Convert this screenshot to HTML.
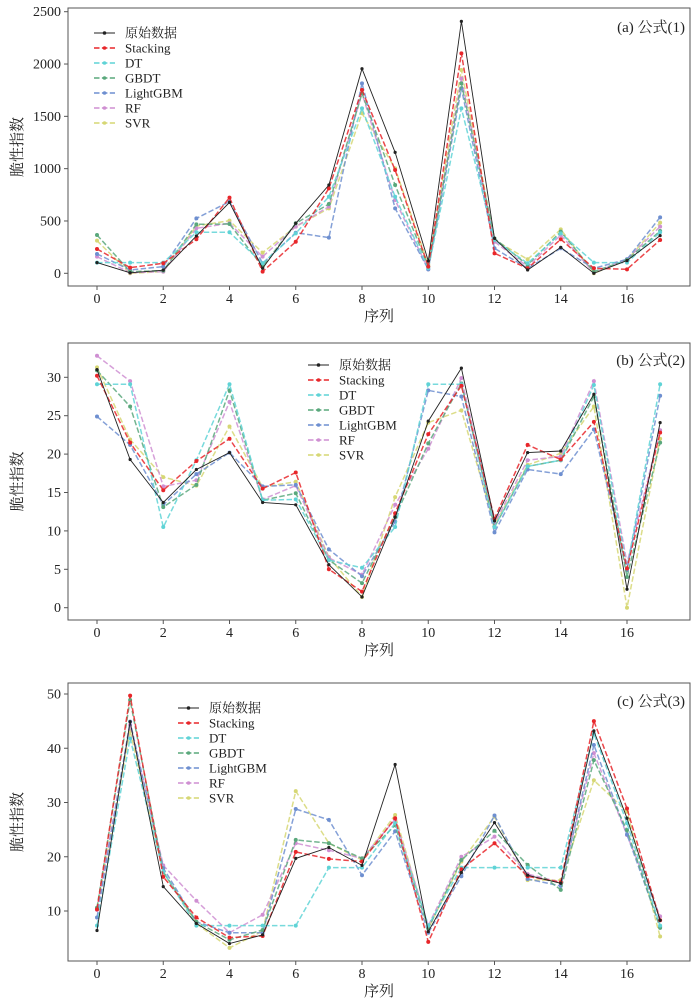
<!DOCTYPE html>
<html><head><meta charset="utf-8"><style>
body{margin:0;background:#fff;}
svg{display:block;font-family:"Liberation Serif","Noto Serif CJK SC",serif;}
</style></head><body>
<svg id="chart" width="700" height="1007" viewBox="0 0 700 1007"></svg>
<script>
const categories=[0,1,2,3,4,5,6,7,8,9,10,11,12,13,14,15,16,17];
const seriesNames=["原始数据","Stacking","DT","GBDT","LightGBM","RF","SVR"];
const xTicks=[0,2,4,6,8,10,12,14,16];
// panel a
const aOrig=[102,5,30,357,678,48,478,844,1955,1156,118,2408,334,32,248,0,121,360];
const aStack=[232,54,96,325,723,16,302,812,1752,987,64,2102,191,48,325,48,38,318];
const aDT=[102,102,102,392,392,96,382,732,1576,732,48,1576,318,96,382,102,102,392];
const aGBDT=[366,16,25,468,471,64,478,662,1720,844,64,1815,334,80,398,16,127,404];
const aLGBM=[185,32,64,525,685,96,388,341,1815,621,38,1768,239,48,239,48,134,535];
const aRF=[159,6,16,430,478,159,446,637,1720,700,38,1863,302,64,366,6,134,446];
const aSVR=[312,0,16,452,503,197,446,621,1529,1003,80,1943,318,134,420,0,127,484];
const aTicks=[0,500,1000,1500,2000,2500];
// panel b
const bOrig=[31.0,19.3,13.7,18.0,20.2,13.7,13.4,5.6,1.4,11.8,24.3,31.2,11.3,20.2,20.4,27.8,2.4,24.1];
const bStack=[30.2,21.5,15.3,19.1,22.0,15.5,17.6,5.0,2.1,12.3,22.6,28.9,11.6,21.2,19.3,24.2,5.1,22.8];
const bDT=[29.1,29.1,10.5,19.2,29.1,14.0,14.1,6.2,5.2,10.5,29.1,29.1,10.5,18.4,19.2,29.0,5.1,29.1];
const bGBDT=[30.9,26.2,13.1,16.0,28.3,14.0,14.9,6.2,3.2,11.8,21.4,29.2,10.5,18.4,19.2,27.5,4.0,21.5];
const bLGBM=[24.9,21.2,13.4,17.4,20.2,15.8,16.0,7.6,4.1,11.2,28.3,27.5,9.8,18.0,17.4,23.2,4.9,27.6];
const bRF=[32.8,29.5,15.8,16.6,26.8,14.1,15.9,6.5,4.3,13.4,20.7,29.9,11.0,19.2,19.7,29.5,5.8,23.1];
const bSVR=[31.3,21.9,17.0,15.9,23.6,15.7,16.4,6.6,1.4,14.4,24.1,25.7,10.8,18.6,20.1,26.2,0.0,22.0];
const bTicks=[0,5,10,15,20,25,30];
// panel c
const cOrig=[6.4,44.9,14.5,7.7,4.0,5.6,19.7,21.7,18.4,37.0,6.2,17.1,26.3,16.6,15.1,43.2,27.1,8.3];
const cStack=[10.3,49.7,16.3,8.8,5.1,5.4,20.9,19.6,19.1,27.1,4.3,17.7,22.5,16.4,15.3,45.0,28.9,8.3];
const cDT=[7.3,41.8,17.2,7.3,7.3,7.3,7.3,18.0,18.0,26.2,7.3,18.0,18.0,18.0,18.0,42.7,26.2,7.3];
const cGBDT=[10.6,48.9,17.2,8.0,4.7,6.5,23.1,22.5,19.7,25.8,6.8,19.4,24.8,18.5,13.9,37.8,24.9,6.9];
const cLGBM=[8.8,44.9,17.9,8.0,6.0,6.0,28.8,26.8,16.6,24.7,6.0,16.4,27.6,15.9,14.6,40.6,24.1,7.1];
const cRF=[10.2,44.3,18.4,11.9,6.0,9.3,22.5,21.2,19.7,26.9,7.3,20.0,23.7,16.8,15.3,39.1,24.0,9.0];
const cSVR=[10.5,43.2,17.2,7.7,3.2,6.3,32.1,22.5,19.4,27.7,6.8,19.1,27.4,15.7,15.7,34.1,28.3,5.3];
const cTicks=[10,20,30,40,50];

const colors=["#222222","#e8262a","#5fd3d6","#5aa87c","#6e8fd0","#cf8fd2","#d6d774"];
const NS="http://www.w3.org/2000/svg";
const svg=document.getElementById('chart');
function mk(tag,attrs,parent){const e=document.createElementNS(NS,tag);for(const k in attrs)e.setAttribute(k,attrs[k]);(parent||svg).appendChild(e);return e;}

const panels=[
 {key:'a',series:[aOrig,aStack,aDT,aGBDT,aLGBM,aRF,aSVR],ticks:aTicks,top:8,bottom:286,v0:0,p0:273.3,v1:2500,p1:11.7,title:"(a) 公式(1)",titleY:32,legX:94,legY:33},
 {key:'b',series:[bOrig,bStack,bDT,bGBDT,bLGBM,bRF,bSVR],ticks:bTicks,top:343,bottom:620,v0:0,p0:607.7,v1:30,p1:377.3,title:"(b) 公式(2)",titleY:365,legX:308,legY:365},
 {key:'c',series:[cOrig,cStack,cDT,cGBDT,cLGBM,cRF,cSVR],ticks:cTicks,top:683,bottom:961,v0:10,p0:911,v1:50,p1:694,title:"(c) 公式(3)",titleY:706,legX:178,legY:708}
];
const L=68,R=690;
function xs(i){return 97+i*33.125;}

panels.forEach(p=>{
  const g=mk('g',{});
  
  
  const ys=v=>p.p0+(v-p.v0)*(p.p1-p.p0)/(p.v1-p.v0);
  const box=mk('rect',{x:L,y:p.top,width:R-L,height:p.bottom-p.top,fill:'none',stroke:'#555','stroke-width':1},g);
  
  
  p.ticks.forEach(t=>{
    const y=ys(t);
    mk('line',{x1:L-4,x2:L,y1:y,y2:y,stroke:'#555'},g);
    const tx=mk('text',{x:L-7,y:y+4.5,'text-anchor':'end','font-size':14,fill:'#222'},g);
    tx.textContent=t;
    
    
  });
  xTicks.forEach(t=>{
    const x=xs(t);
    mk('line',{x1:x,x2:x,y1:p.bottom,y2:p.bottom+4,stroke:'#555'},g);
    const tx=mk('text',{x:x,y:p.bottom+17,'text-anchor':'middle','font-size':14,fill:'#222'},g);
    tx.textContent=t;
    
    
  });
  const xl=mk('text',{x:379,y:p.bottom+35,'text-anchor':'middle','font-size':15,fill:'#222'},g);
  xl.textContent='序列';
  
  
  const ym=(p.top+p.bottom)/2;
  const yl=mk('text',{x:0,y:0,'text-anchor':'middle','font-size':15,fill:'#222',transform:`translate(22,${ym}) rotate(-90)`},g);
  yl.textContent='脆性指数';
  
  
  const tt=mk('text',{x:685,y:p.titleY,'text-anchor':'end','font-size':15,fill:'#222'},g);
  tt.textContent=p.title;
  
  
  // series
  for(let s=p.series.length-1;s>=0;s--){
    const vals=p.series[s];
    const pts=vals.map((v,i)=>xs(categories[i]).toFixed(1)+','+ys(v).toFixed(1)).join(' ');
    const pl=mk('polyline',{points:pts,fill:'none',stroke:colors[s],'stroke-width':s===0?0.9:1.5,'stroke-dasharray':s===0?'none':'5.5,2.4',opacity:s===0?1:0.85},g);
    
    
    vals.forEach((v,i)=>{
      const c=mk('circle',{cx:xs(categories[i]),cy:ys(v),r:s===0?1.6:2,fill:colors[s]},g);
      
      
    });
  }
  // legend
  seriesNames.forEach((n,s)=>{
    const y=p.legY+s*15;
    const lg=mk('g',{},g);
    
    
    mk('line',{x1:p.legX,x2:p.legX+21,y1:y,y2:y,stroke:colors[s],'stroke-width':s===0?0.9:1.5,'stroke-dasharray':s===0?'none':'5.5,2.4'},lg);
    mk('circle',{cx:p.legX+10.5,cy:y,r:1.8,fill:colors[s]},lg);
    const t=mk('text',{x:p.legX+31,y:y+4.5,'font-size':13,fill:'#222'},lg);
    t.textContent=n;
  });
});
</script>
</body></html>
